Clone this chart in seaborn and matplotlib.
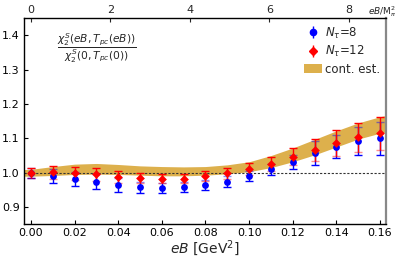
import numpy as np
import matplotlib
matplotlib.use("Agg")
import matplotlib.pyplot as plt
import seaborn as sns
from matplotlib.patches import Patch

# ---- data ----
eB = [0.00, 0.01, 0.02, 0.03, 0.04, 0.05, 0.06, 0.07, 0.08,
      0.09, 0.10, 0.11, 0.12, 0.13, 0.14, 0.15, 0.16]
nt8 = [1.000, 0.991, 0.982, 0.974, 0.964, 0.958, 0.956, 0.958, 0.964,
       0.974, 0.990, 1.010, 1.032, 1.057, 1.076, 1.093, 1.100]
nt8_err = [0.015, 0.020, 0.020, 0.022, 0.020, 0.016, 0.014, 0.014, 0.015,
           0.016, 0.015, 0.016, 0.020, 0.035, 0.034, 0.040, 0.048]
nt12 = [1.000, 1.001, 0.998, 0.995, 0.988, 0.985, 0.983, 0.983, 0.990,
        0.998, 1.010, 1.025, 1.047, 1.066, 1.086, 1.103, 1.115]
nt12_err = [0.015, 0.018, 0.018, 0.020, 0.017, 0.015, 0.013, 0.013, 0.014,
            0.016, 0.017, 0.020, 0.025, 0.032, 0.037, 0.043, 0.048]

band_x = [-0.004, 0.00, 0.01, 0.02, 0.03, 0.04, 0.05, 0.06, 0.07, 0.08,
          0.09, 0.10, 0.11, 0.12, 0.13, 0.14, 0.15, 0.16, 0.164]
band_lo = [0.990, 0.990, 0.992, 0.995, 0.996, 0.995, 0.993, 0.991, 0.991, 0.993,
           0.997, 1.003, 1.015, 1.032, 1.052, 1.075, 1.098, 1.115, 1.120]
band_hi = [1.009, 1.010, 1.018, 1.025, 1.027, 1.024, 1.020, 1.018, 1.017, 1.018,
           1.023, 1.032, 1.050, 1.072, 1.097, 1.122, 1.145, 1.163, 1.168]

x_ticks = [0.00, 0.02, 0.04, 0.06, 0.08, 0.10, 0.12, 0.14, 0.16]
y_ticks = [0.9, 1.0, 1.1, 1.2, 1.3, 1.4]
top_ticks = [0, 2, 4, 6, 8]
m_pi = 0.135

# ---- style ----
sns.set_theme(style="ticks")
plt.rcParams['font.family'] = ['DejaVu Sans']
plt.rcParams['mathtext.fontset'] = 'dejavusans'

fig = plt.figure(figsize=(4.03, 2.58), dpi=100)
ax = fig.add_axes([0.0596, 0.1306, 0.8984, 0.7994])

band_color = '#ddb04c'
ax.fill_between(band_x, band_lo, band_hi, color=band_color, lw=0, zorder=1)
ax.axhline(1.0, color='#333333', ls=(0, (2, 1.5)), lw=0.8, zorder=2)

def draw(x, y, err, color, marker, ms, light_cap):
    cont = ax.errorbar(x, y, yerr=err, fmt='none', ecolor=color, elinewidth=1.0,
                       capsize=3.2, capthick=1.0, zorder=3)
    caps = cont[1]
    caps[light_cap].set_alpha(0.45)
    sns.scatterplot(x=x, y=y, ax=ax, color=color, marker=marker, s=ms,
                    edgecolor=color, linewidth=0, zorder=4)

draw(eB, nt8, nt8_err, '#0000ff', 'o', 24, 1)
draw(eB, nt12, nt12_err, '#ff0000', 'D', 20, 0)

# legend handles
h8 = ax.errorbar([], [], yerr=[], fmt='o', color='#0000ff', ms=4.5, capsize=3.2, elinewidth=1)
h12 = ax.errorbar([], [], yerr=[], fmt='D', color='#ff0000', ms=4.2, capsize=3.2, elinewidth=1)
hb = Patch(facecolor=band_color, edgecolor='none')
ax.legend([h8, h12, hb], [r'$N_\tau$=8', r'$N_\tau$=12', 'cont. est.'],
          loc='upper right', bbox_to_anchor=(1.01, 1.01), frameon=False,
          fontsize=8.5, handlelength=1.5, handletextpad=0.3, labelspacing=0.3,
          borderaxespad=0.4)

ax.set_xlim(-0.0032, 0.1628)
ax.set_ylim(0.85, 1.45)
ax.set_xticks(x_ticks)
ax.set_xticklabels([f"{v:.2f}" for v in x_ticks])
ax.set_yticks(y_ticks)
ax.set_yticklabels([f"{v:.1f}" for v in y_ticks])
ax.tick_params(direction='in', labelsize=8, length=3, width=0.8, pad=3, colors='black')
ax.set_xlabel(r'$eB$ [GeV$^2$]', fontsize=10, labelpad=0)

for s in ['left', 'bottom', 'top']:
    ax.spines[s].set_color('black')
    ax.spines[s].set_linewidth(1.0)
ax.spines['right'].set_color('#888888')
ax.spines['right'].set_linewidth(1.6)

sec = ax.secondary_xaxis('top', functions=(lambda x: x / m_pi**2, lambda x: x * m_pi**2))
sec.set_xticks(top_ticks)
sec.tick_params(direction='in', labelsize=8, length=3, width=0.8, pad=2)
sec.spines['top'].set_visible(False)
fig.text(0.913, 0.955, r'$eB/\mathrm{M}_\pi^2$', fontsize=6.5, ha='left', va='center')

ax.text(0.2, 0.855, r'$\dfrac{\chi_2^S(eB,T_{pc}(eB))}{\chi_2^S(0,T_{pc}(0))}$',
        transform=ax.transAxes, ha='center', va='center', fontsize=7.7)

fig.savefig('out.png', dpi=100)
